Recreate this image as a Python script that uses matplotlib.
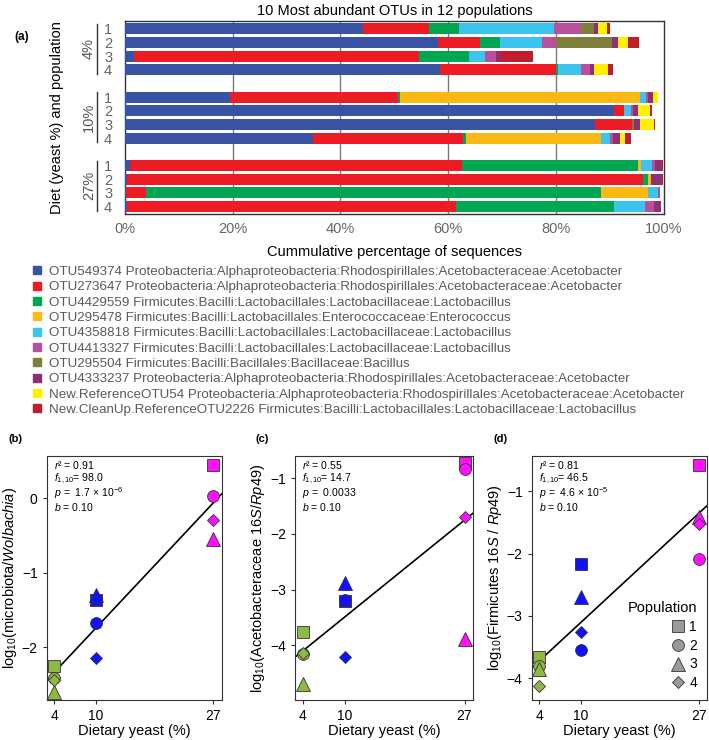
import numpy as np
import matplotlib
matplotlib.use('Agg')
import matplotlib.pyplot as plt
from matplotlib.lines import Line2D

plt.rcParams['font.family'] = ['Liberation Sans', 'DejaVu Sans']
plt.rcParams['mathtext.fontset'] = 'custom'
plt.rcParams['mathtext.rm'] = 'Liberation Sans'
plt.rcParams['mathtext.it'] = 'Liberation Sans:italic'
plt.rcParams['mathtext.bf'] = 'Liberation Sans:bold'

# ---- panel (a): share of each OTU per population (rows: 4% 1-4, 10% 1-4, 27% 1-4)
otu_labels = [
    'OTU549374 Proteobacteria:Alphaproteobacteria:Rhodospirillales:Acetobacteraceae:Acetobacter',
    'OTU273647 Proteobacteria:Alphaproteobacteria:Rhodospirillales:Acetobacteraceae:Acetobacter',
    'OTU4429559 Firmicutes:Bacilli:Lactobacillales:Lactobacillaceae:Lactobacillus',
    'OTU295478 Firmicutes:Bacilli:Lactobacillales:Enterococcaceae:Enterococcus',
    'OTU4358818 Firmicutes:Bacilli:Lactobacillales:Lactobacillaceae:Lactobacillus',
    'OTU4413327 Firmicutes:Bacilli:Lactobacillales:Lactobacillaceae:Lactobacillus',
    'OTU295504 Firmicutes:Bacilli:Bacillales:Bacillaceae:Bacillus',
    'OTU4333237 Proteobacteria:Alphaproteobacteria:Rhodospirillales:Acetobacteraceae:Acetobacter',
    'New.ReferenceOTU54 Proteobacteria:Alphaproteobacteria:Rhodospirillales:Acetobacteraceae:Acetobacter',
    'New.CleanUp.ReferenceOTU2226 Firmicutes:Bacilli:Lactobacillales:Lactobacillaceae:Lactobacillus',
]
otu_colors = ['#3953a4', '#ed1c24', '#00a651', '#fdb913', '#3cc4ee',
              '#b8509e', '#7f7f3a', '#902f72', '#fff000', '#be1e2d']

otu549374 = [44.2, 58.1, 1.8, 58.5, 19.6, 90.7, 87.3, 34.9, 1.0, 0.5, 0.2, 0.5]
otu273647 = [12.3, 7.7, 52.8, 21.5, 31.1, 1.8, 6.8, 27.8, 61.6, 95.7, 3.7, 61.0]
otu4429559 = [5.4, 3.7, 9.2, 0.4, 0.3, 0, 0, 0.6, 32.5, 0.8, 84.4, 29.3]
otu295478 = [0, 0, 0, 0, 44.6, 0, 0, 25.1, 0.6, 0.6, 8.7, 0]
otu4358818 = [17.7, 7.9, 3.1, 4.2, 1.1, 1.4, 0, 1.6, 2.1, 0, 1.8, 5.7]
otu4413327 = [5.0, 2.6, 2.0, 1.6, 0.4, 0.3, 0, 0.6, 0.6, 0, 0.5, 1.7]
otu295504 = [2.4, 10.4, 0, 0, 0, 0, 0.3, 0, 0, 0, 0, 0]
otu4333237 = [0.8, 1.1, 0.6, 0.9, 0.9, 1.0, 1.2, 1.3, 1.2, 2.1, 0, 1.2]
new_ref_otu54 = [1.6, 1.9, 0, 2.5, 0.8, 2.3, 2.5, 0.9, 0, 0, 0, 0]
new_cleanup_otu2226 = [0.6, 2.0, 6.2, 1.0, 0, 0.3, 0.2, 1.1, 0.3, 0.2, 0, 0]
otu_shares = [otu549374, otu273647, otu4429559, otu295478, otu4358818,
              otu4413327, otu295504, otu4333237, new_ref_otu54, new_cleanup_otu2226]

diet_groups = ['4%', '10%', '27%']
populations = ['1', '2', '3', '4']

# ---- panels (b)-(d): log10 ratios, per diet (4, 10, 27) for populations 1-4
diet_yeast = [4, 10, 27]
microbiota_wolbachia = {'1': [-2.25, -1.36, 0.45], '2': [-2.42, -1.68, 0.03],
                        '3': [-2.60, -1.30, -0.55], '4': [-2.44, -2.15, -0.29]}
aceto_rp49 = {'1': [-3.76, -3.20, -0.72], '2': [-4.16, -3.18, -0.83],
              '3': [-4.70, -2.88, -3.88], '4': [-4.14, -4.20, -1.70]}
firmi_rp49 = {'1': [-3.66, -2.17, -0.57], '2': [-3.80, -3.54, -2.09],
              '3': [-3.86, -2.69, -1.41], '4': [-4.12, -3.26, -1.53]}
stats_b = ['0.91', '98.0', r'1.7 × 10$^{-6}$', '0.10']
stats_c = ['0.55', '14.7', '0.0033', '0.10']
stats_d = ['0.81', '46.5', r'4.6 × 10$^{-5}$', '0.10']

diet_colors = ['#8dba45', '#1111ff', '#ff11ff']
pop_markers = {'1': ('s', 8), '2': ('o', 8.5), '3': ('^', 10), '4': ('D', 6.5)}

fig = plt.figure(figsize=(7.09, 7.40), dpi=100)

# ================= (a) stacked bars =================
ax = fig.add_axes([0.1759, 0.7108, 0.7606, 0.2612])
ypos = []
for g in range(len(diet_groups)):
    for p in range(len(populations)):
        ypos.append(g * 5 + p)
ypos = np.array(ypos)
left = np.zeros(len(ypos))
for share, col in zip(otu_shares, otu_colors):
    ax.barh(ypos, share, left=left, height=0.8, color=col, zorder=3)
    left += np.array(share)
ax.set_xlim(0, 100)
ax.set_ylim(13.55, -0.6)
ax.set_xticks(range(0, 101, 20))
ax.set_xticklabels(['%d%%' % v for v in range(0, 101, 20)], color='#666666', fontsize=10.5)
ax.set_yticks(ypos)
ax.set_yticklabels(populations * 3, color='#666666', fontsize=10.5)
ax.tick_params(axis='both', length=0)
ax.tick_params(axis='y', pad=9)
ax.tick_params(axis='x', pad=6)
for v in [20, 40, 60, 80]:
    ax.axvline(v, color='#7a7a7a', lw=1.0, zorder=1)
for s in ax.spines.values():
    s.set_color('#333333')
    s.set_linewidth(1.0)
ax.set_xlabel('Cummulative percentage of sequences', fontsize=10.5, labelpad=6)
ax.set_title('10 Most abundant OTUs in 12 populations', fontsize=10.5, pad=4)
trans = matplotlib.transforms.blended_transform_factory(ax.transAxes, ax.transData)
for g, name in enumerate(diet_groups):
    y0 = g * 5
    ax.plot([-0.051, -0.051], [y0 - 0.35, y0 + 3.3], transform=trans, color='#333333',
            lw=1.0, clip_on=False)
    ax.text(-0.066, y0 + 1.45, name, transform=trans, rotation=90, ha='center',
            va='center', fontsize=10.5, color='#555555')
ax.text(-0.125, 0.5, 'Diet (yeast %) and population', transform=ax.transAxes,
        rotation=90, ha='center', va='center', fontsize=10.5)
fig.text(0.02, 0.95, '(a)', fontsize=8.5, fontweight='bold', va='center')

handles = [Line2D([], [], marker='s', ls='', color=c, markersize=6) for c in otu_colors]
fig.legend(handles, otu_labels, loc='upper left', bbox_to_anchor=(0.045, 0.641),
           frameon=False, fontsize=9.6, labelcolor='#5a5a5a', handlelength=0.8,
           handletextpad=0.5, labelspacing=0.226, borderpad=0, borderaxespad=0)

# ================= (b)-(d) scatter panels =================
def scatter_panel(rect, data, stats, ylabel, ylim, yticks, tag):
    a = fig.add_axes(rect)
    allx, ally = [], []
    for pop in populations:
        m, ms = pop_markers[pop]
        for xi, yi, c in zip(diet_yeast, data[pop], diet_colors):
            a.plot(xi, yi, marker=m, ms=ms, color=c, mec='#333333', mew=0.6, ls='', zorder=3)
        allx += diet_yeast
        ally += data[pop]
    slope, icpt = np.polyfit(allx, ally, 1)
    xl = np.array([2.9, 28.2])
    a.plot(xl, icpt + slope * xl, color='black', lw=1.2, zorder=2)
    a.set_xlim(2.9, 28.2)
    a.set_ylim(*ylim)
    a.set_xticks(diet_yeast)
    a.set_yticks(yticks)
    a.tick_params(labelsize=10, length=3, color='#333333')
    for s in a.spines.values():
        s.set_color('#333333')
    a.set_xlabel('Dietary yeast (%)', fontsize=10.5, labelpad=1)
    a.set_ylabel(ylabel, fontsize=10.5, labelpad=2)
    lines = [r'$r$² = ' + stats[0], r'$f_{1,10}$= ' + stats[1],
             r'$p$ =  ' + stats[2], r'$b$ = ' + stats[3]]
    for i, t in enumerate(lines):
        a.text(0.04, 0.962 - i * 0.057, t, transform=a.transAxes, fontsize=7.6,
               va='center', ha='left')
    a.text(-0.22, 1.07, tag, transform=a.transAxes, fontsize=8, fontweight='bold',
           va='center')
    return a

scatter_panel([0.0659, 0.0541, 0.2468, 0.3297], microbiota_wolbachia, stats_b,
              r'log$_{10}$(microbiota/$\mathit{Wolbachia}$)', (-2.71, 0.57),
              [-2, -1, 0], '(b)')
scatter_panel([0.4161, 0.0541, 0.2510, 0.3297], aceto_rp49, stats_c,
              r'log$_{10}$(Acetobacteraceae $\mathit{16S}$/$\mathit{Rp49}$)', (-4.98, -0.6),
              [-4, -3, -2, -1], '(c)')
ad = scatter_panel([0.7500, 0.0541, 0.2473, 0.3297], firmi_rp49, stats_d,
                   r'log$_{10}$(Firmicutes $\mathit{16S}$ / $\mathit{Rp49}$)', (-4.35, -0.43),
                   [-4, -3, -2, -1], '(d)')

pop_handles = [Line2D([], [], marker=pop_markers[p][0], ms=pop_markers[p][1], ls='',
                      color='#9a9a9a', mec='#333333', mew=0.6) for p in populations]
leg = ad.legend(pop_handles, populations, title='Population', loc='lower right',
                frameon=False, fontsize=10, title_fontsize=10.5, handletextpad=0.1,
                handlelength=1.4, labelspacing=0.35, borderaxespad=0.3, markerfirst=True)
leg._legend_box.align = 'right'

fig.savefig('out.png', dpi=100)
